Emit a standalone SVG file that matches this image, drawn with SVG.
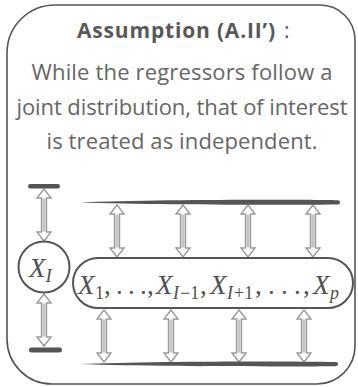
<svg xmlns="http://www.w3.org/2000/svg" width="358" height="387" viewBox="0 0 358 387">
<defs>
<style>
.frame{fill:#fff;stroke:#555;stroke-width:1.6}
.body{font-family:"Open Sans","Liberation Sans",sans-serif;font-size:22px;fill:#666;text-anchor:middle}
.title{font-family:"Open Sans","Liberation Sans",sans-serif;font-size:21px;fill:#585858}
.m{font-family:"Liberation Serif",serif;fill:#505050}
.mi{font-style:italic}
.big{font-size:27px}
.sub{font-size:18px}
.node{fill:#fff;stroke:#555;stroke-width:2}
.bar{fill:#555}
.ahead{fill:#fff;stroke:#9a9a9a;stroke-width:1.4;stroke-linejoin:miter}
</style>
<g id="arr">
<path class="ahead" d="M0,-26 L7,-17 L2.5,-17 L2.5,17 L7,17 L0,26 L-7,17 L-2.5,17 L-2.5,-17 L-7,-17 Z"/>
<rect x="-1.6" y="-16.5" width="3.2" height="33" fill="#c4c4c4"/>
</g>
</defs>
<rect x="0" y="0" width="358" height="387" fill="#fff"/>
<path class="frame" d="M55,5 L320,5 A35,35 0 0 1 355,40 L355,346 A38,38 0 0 1 317,384 L52,384 A45,45 0 0 1 7,339 L7,53 A48,48 0 0 1 55,5 Z"/>
<g id="text">
<text class="title" x="77" y="38" textLength="198" lengthAdjust="spacing" font-weight="bold">Assumption (A.II’)</text>
<text class="title" x="284" y="38">:</text>
<text class="body" x="182" y="80" textLength="301" lengthAdjust="spacing">While the regressors follow a</text>
<text class="body" x="182" y="115" textLength="331" lengthAdjust="spacing">joint distribution, that of interest</text>
<text class="body" x="182" y="149" textLength="271" lengthAdjust="spacing">is treated as independent.</text>
</g>
<g id="connectors">
<use href="#arr" x="44" y="215"/>
<use href="#arr" x="44" y="320"/>
<use href="#arr" x="117" y="231"/>
<use href="#arr" x="183" y="231"/>
<use href="#arr" x="248" y="231"/>
<use href="#arr" x="313" y="231"/>
<use href="#arr" x="104" y="336"/>
<use href="#arr" x="171" y="336"/>
<use href="#arr" x="239" y="336"/>
<use href="#arr" x="304" y="336"/>
</g>
<g id="bar-left-top"><rect class="bar" x="28" y="184" width="32" height="4.5" rx="2.2"/></g>
<g id="bar-left-bottom"><rect class="bar" x="29" y="347.5" width="33" height="5" rx="2.5"/></g>
<g id="bar-top"><path class="bar" d="M80,202.5 C150,199.5 300,199.5 338,200.3 A2.1,2.1 0 0 1 338,204.5 C300,205 150,205 80,202.5 Z"/></g>
<g id="bar-bottom"><path class="bar" d="M79,364 C150,361 300,361 336,362 A2.1,2.1 0 0 1 336,366.2 C300,366.6 150,366.6 79,364 Z"/></g>
<g id="node-xi">
<circle class="node" cx="44" cy="267" r="25.5"/>
<text class="m" x="29" y="277"><tspan class="mi" font-size="27">X</tspan><tspan class="mi" font-size="19" dy="5">I</tspan></text>
</g>
<g id="node-others">
<rect class="node" x="73" y="258" width="280" height="50" rx="25"/>
<text class="m big" y="294"><tspan class="mi" x="78">X</tspan><tspan class="sub" x="95" dy="5">1</tspan><tspan x="104" dy="-5">,</tspan><tspan x="116">.</tspan><tspan x="128">.</tspan><tspan x="140">.</tspan><tspan x="147">,</tspan><tspan class="mi" x="156">X</tspan><tspan class="mi sub" x="173" dy="5">I</tspan><tspan class="sub" x="180">−1</tspan><tspan x="200" dy="-5">,</tspan><tspan class="mi" x="210">X</tspan><tspan class="mi sub" x="227" dy="5">I</tspan><tspan class="sub" x="234">+1</tspan><tspan x="255" dy="-5">,</tspan><tspan x="268">.</tspan><tspan x="281">.</tspan><tspan x="294">.</tspan><tspan x="303">,</tspan><tspan class="mi" x="313">X</tspan><tspan class="mi sub" x="330" dy="5">p</tspan></text>
</g>
</svg>
